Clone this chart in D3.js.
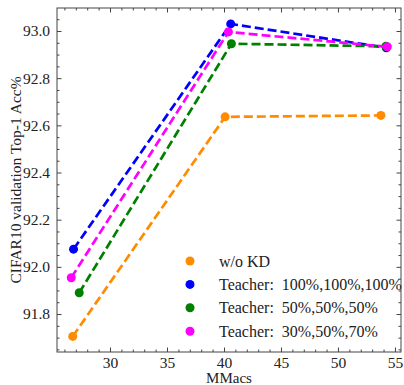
<!DOCTYPE html>
<html>
<head>
<meta charset="utf-8">
<script src="https://cdn.jsdelivr.net/npm/d3@7"></script>
<style>
  body { margin: 0; background: #fff; }
  .frame { fill: none; stroke: #444; stroke-width: 1; }
  .tick line { stroke: #444; }
</style>
</head>
<body>
<div id="graph"></div>
<script>
// series names, in legend order
var seriesNames = ["w/o KD", "Teacher:  100%,100%,100%", "Teacher:  50%,50%,50%", "Teacher:  30%,50%,70%"];
var seriesColors = ["#ff8c00", "#0000ff", "#008000", "#ff00ff"];

// MMacs of each model, per series
var macsNoKD = [26.73, 40.10, 53.77];
var macsT100 = [26.80, 40.59, 54.24];
var macsT50 = [27.30, 40.65, 54.20];
var macsT357 = [26.60, 40.39, 54.33];

// top-1 accuracy, per series
var accNoKD = [91.705, 92.636, 92.642];
var accT100 = [92.075, 93.030, 92.929];
var accT50 = [91.890, 92.946, 92.935];
var accT357 = [91.954, 92.996, 92.933];

var xTicks = [30, 35, 40, 45, 50, 55];
var yTicks = [91.8, 92.0, 92.2, 92.4, 92.6, 92.8, 93.0];

var FONT = "'Liberation Serif', 'DejaVu Serif', serif";
var width = 404, height = 385;
var margin = {top: 8, right: 3, bottom: 33, left: 57};
var w = width - margin.left - margin.right;
var h = height - margin.top - margin.bottom;

var series = [
  {name: seriesNames[0], color: seriesColors[0], x: macsNoKD, y: accNoKD},
  {name: seriesNames[1], color: seriesColors[1], x: macsT100, y: accT100},
  {name: seriesNames[2], color: seriesColors[2], x: macsT50, y: accT50},
  {name: seriesNames[3], color: seriesColors[3], x: macsT357, y: accT357}
];

var x = d3.scaleLinear().domain([25.35, 55.53]).range([0, w]);
var y = d3.scaleLinear().domain([91.639, 93.0975]).range([h, 0]);

var svg = d3.select("div#graph")
    .append("svg")
    .attr("width", width)
    .attr("height", height);

var g = svg.append("g")
    .attr("transform", "translate(" + margin.left + "," + margin.top + ")");

// minor ticks
var xMinor = d3.range(26, 56, 1).filter(v => xTicks.indexOf(v) < 0);
var yMinor = d3.range(91.65, 93.09, 0.05).map(v => +v.toFixed(2)).filter(v => yTicks.indexOf(v) < 0);

function fmt(d) { return d.toFixed(1); }

function styleText(a) {
    a.selectAll("text")
        .attr("font-family", FONT)
        .attr("font-size", 15.5)
        .attr("fill", "#222");
}

// bottom / top axes (inward ticks)
g.append("g")
    .attr("transform", "translate(0," + h + ")")
    .call(d3.axisBottom(x).tickValues(xTicks).tickSizeInner(-4.5).tickSizeOuter(0).tickPadding(5))
    .call(a => a.select(".domain").remove())
    .call(styleText);
g.append("g")
    .attr("transform", "translate(0," + h + ")")
    .call(d3.axisBottom(x).tickValues(xMinor).tickSizeInner(-2.5).tickSizeOuter(0).tickFormat(""))
    .call(a => a.select(".domain").remove());
g.append("g")
    .call(d3.axisTop(x).tickValues(xTicks).tickSizeInner(-4.5).tickSizeOuter(0).tickFormat(""))
    .call(a => a.select(".domain").remove());
g.append("g")
    .call(d3.axisTop(x).tickValues(xMinor).tickSizeInner(-2.5).tickSizeOuter(0).tickFormat(""))
    .call(a => a.select(".domain").remove());

// left / right axes
g.append("g")
    .call(d3.axisLeft(y).tickValues(yTicks).tickSizeInner(-4.5).tickSizeOuter(0).tickPadding(7).tickFormat(fmt))
    .call(a => a.select(".domain").remove())
    .call(styleText);
g.append("g")
    .call(d3.axisLeft(y).tickValues(yMinor).tickSizeInner(-2.5).tickSizeOuter(0).tickFormat(""))
    .call(a => a.select(".domain").remove());
g.append("g")
    .attr("transform", "translate(" + w + ",0)")
    .call(d3.axisRight(y).tickValues(yTicks).tickSizeInner(-4.5).tickSizeOuter(0).tickFormat(""))
    .call(a => a.select(".domain").remove());
g.append("g")
    .attr("transform", "translate(" + w + ",0)")
    .call(d3.axisRight(y).tickValues(yMinor).tickSizeInner(-2.5).tickSizeOuter(0).tickFormat(""))
    .call(a => a.select(".domain").remove());

g.append("rect").attr("class", "frame")
    .attr("x", 0).attr("y", 0).attr("width", w).attr("height", h);

// lines and markers
var line = d3.line().x(d => x(d[0])).y(d => y(d[1]));

series.forEach(function(s) {
    var pts = s.x.map((v, i) => [v, s.y[i]]);
    g.append("path")
        .datum(pts)
        .attr("d", line)
        .attr("fill", "none")
        .attr("stroke", s.color)
        .attr("stroke-width", 2.7)
        .attr("stroke-dasharray", "9,4");
    g.selectAll(null)
        .data(pts)
        .enter()
        .append("circle")
        .attr("cx", d => x(d[0]))
        .attr("cy", d => y(d[1]))
        .attr("r", 4.5)
        .attr("fill", s.color);
});

// legend
var legend = svg.append("g").attr("transform", "translate(190,261)");
series.forEach(function(s, i) {
    var row = legend.append("g").attr("transform", "translate(0," + (i * 23.4) + ")");
    row.append("circle").attr("r", 4.5).attr("fill", s.color);
    row.append("text").attr("x", 29).attr("dy", "0.35em")
        .attr("font-family", FONT)
        .attr("fill", "#222")
        .attr("xml:space", "preserve")
        .style("white-space", "pre")
        .attr("font-size", 16).text(s.name);
});

// axis titles
svg.append("text")
    .attr("x", margin.left + w / 2)
    .attr("y", 383)
    .attr("text-anchor", "middle")
    .attr("font-family", FONT)
    .attr("fill", "#222")
    .attr("font-size", 15)
    .text("MMacs");
svg.append("text")
    .attr("transform", "translate(21," + (margin.top + h / 2) + ") rotate(-90)")
    .attr("text-anchor", "middle")
    .attr("font-family", FONT)
    .attr("fill", "#222")
    .attr("font-size", 15.5)
    .text("CIFAR10 validation Top-1 Acc%");
</script>
</body>
</html>
